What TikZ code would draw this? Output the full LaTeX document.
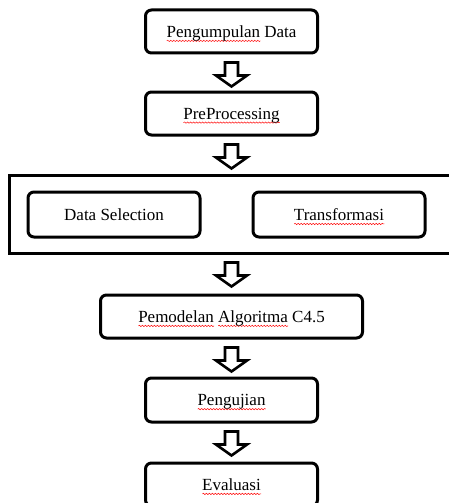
\documentclass[tikz,border=0pt]{standalone}
\usepackage{fontspec}
\setmainfont{Liberation Serif}
\usetikzlibrary{calc,decorations.pathmorphing}
\newsavebox\sqbox
\newcommand\sqw[1]{\sbox\sqbox{#1}\rlap{\smash{\tikz[baseline=0pt, x=1pt, y=1pt, sharp corners,
  line width=0.5pt]\draw[draw=red, fill=none, sharp corners, line width=0.5pt,
  decorate, decoration={snake, amplitude=0.7pt, segment length=3pt}]
  (0pt,-3.5pt) -- (\wd\sqbox,-3.5pt);}}\usebox\sqbox}
\tikzset{
  box/.style={draw, line width=3pt, rounded corners=6pt, minimum width=172pt,
    minimum height=43pt, inner sep=0pt, fill=white, text depth=0pt,
    font=\fontsize{17}{20}\selectfont},
  groupbox/.style={draw, line width=3pt, inner sep=0pt},
  blockarrow/.style={draw, line width=2.6pt, fill=white, line join=miter},
}
\newcommand\blockarrow[2]{%
  \draw[blockarrow] let \p1=(#1.south), \p2=(#2.north) in
    ({\x1-6.5pt},{\y1-8pt}) -- ({\x1+6.5pt},{\y1-8pt}) -- ({\x1+6.5pt},{\y1-21pt})
    -- ({\x1+15.5pt},{\y1-21pt}) -- ({\x1},{\y1-32pt}) -- ({\x1-15.5pt},{\y1-21pt})
    -- ({\x1-6.5pt},{\y1-21pt}) -- cycle;}
\begin{document}
\begin{tikzpicture}[x=1pt,y=-1pt]
\useasboundingbox (0,0) rectangle (449,503);
\clip (0,0) rectangle (449,503);
\node[box] (b1) at (231.5,31.5) {\sqw{Pengumpulan} Data};
\node[box] (b2) at (231.5,113.5) {\sqw{PreProcessing}};
\node[groupbox, minimum width=444pt, minimum height=78pt] (grp) at (231.5,214) {};
\node[box, minimum height=45pt] (ds) at (114,214.5) {Data Selection};
\node[box, minimum height=45pt] (tr) at (339,214.5) {\sqw{Transformasi}};
\node[box, minimum width=262pt] (pm) at (231.5,316.5) {\sqw{Pemodelan} \sqw{Algoritma} C4.5};
\node[box, minimum height=44pt] (pu) at (231.5,400) {\sqw{Pengujian}};
\node[box] (ev) at (231.5,484.5) {\sqw{Evaluasi}};
\blockarrow{b1}{b2}
\blockarrow{b2}{grp}
\blockarrow{grp}{pm}
\blockarrow{pm}{pu}
\blockarrow{pu}{ev}
\end{tikzpicture}
\end{document}
